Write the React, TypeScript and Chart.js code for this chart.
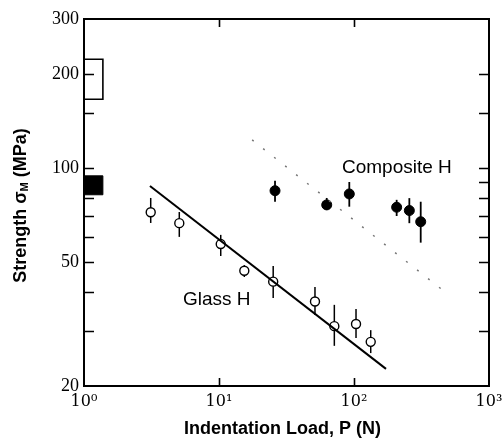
import { useEffect, useRef } from 'react';
import { Chart, registerables } from 'chart.js';

Chart.register(...registerables);

// ---- data ----
const glassLoad = [3.12, 5.08, 10.3, 15.4, 25.2, 51.4, 71.5, 103.5, 133];
const glassStrength = [72.1, 66.5, 57.0, 46.8, 43.2, 37.3, 31.1, 31.6, 27.7];
const glassLow = [66.6, 60.1, 52.2, 44.7, 38.3, 33.8, 26.9, 28.5, 25.5];
const glassHigh = [80.1, 72.2, 61.0, 48.8, 48.5, 41.5, 36.4, 35.3, 30.2];

const compLoad = [26.0, 62.8, 92.3, 207, 257, 312];
const compStrength = [84.5, 76.1, 82.5, 74.8, 73.0, 67.2];
const compLow = [77.9, 73.3, 75.1, 70.1, 66.5, 57.6];
const compHigh = [91.0, 80.1, 90.1, 79.0, 80.0, 77.9];

const glassFitLoad = [3.08, 172.6];
const glassFitStrength = [87.5, 22.7];
const compTrendLoad = [17.6, 514];
const compTrendStrength = [122.9, 38.9];

const openBandLoad = [1, 1.38];
const openBandStrength = [166, 223];
const filledBandLoad = [1, 1.38];
const filledBandStrength = [82, 94.3];

const xMin = 1;
const xMax = 1000;
const yMin = 20;
const yMax = 300;
const yLabelValues = [20, 50, 100, 200, 300];
const xLabelValues = [1, 10, 100, 1000];
const xLabelText = ['10⁰', '10¹', '10²', '10³'];
const xMajorTicks = [10, 100];

const yTitleParts = ['Strength σ', 'M', ' (MPa)'];
const xTitle = 'Indentation Load, P (N)';
const notes = [
  { text: 'Composite H', load: 81.5, strength: 100 },
  { text: 'Glass H', load: 5.41, strength: 37.7 },
];

const pts = (xs: number[], ys: number[]) => xs.map((x, i) => ({ x, y: ys[i] }));
const rect = (xs: number[], ys: number[]) => [
  { x: xs[0], y: ys[0] },
  { x: xs[1], y: ys[0] },
  { x: xs[1], y: ys[1] },
  { x: xs[0], y: ys[1] },
  { x: xs[0], y: ys[0] },
];
const near = (a: number, b: number) => Math.abs(a - b) / b < 1e-6;

const decor = {
  id: 'decor',
  beforeDatasetsDraw(chart: any) {
    const { ctx, scales } = chart;
    const x = scales.x;
    const y = scales.y;
    ctx.save();
    ctx.strokeStyle = '#000';
    const groups: [number[], number[], number[], number][] = [
      [glassLoad, glassLow, glassHigh, 1.5],
      [compLoad, compLow, compHigh, 1.8],
    ];
    for (const [load, lo, hi, w] of groups) {
      ctx.lineWidth = w;
      for (let i = 0; i < load.length; i++) {
        const px = x.getPixelForValue(load[i]);
        ctx.beginPath();
        ctx.moveTo(px, y.getPixelForValue(lo[i]));
        ctx.lineTo(px, y.getPixelForValue(hi[i]));
        ctx.stroke();
      }
    }
    ctx.restore();
  },
  afterDraw(chart: any) {
    const { ctx, chartArea, scales } = chart;
    const x = scales.x;
    const y = scales.y;
    const { left, right, top, bottom } = chartArea;
    ctx.save();
    ctx.strokeStyle = '#000';
    ctx.lineWidth = 2;
    ctx.strokeRect(left, top, right - left, bottom - top);

    ctx.lineWidth = 1.6;
    for (const t of y.ticks) {
      const v = t.value;
      if (v <= yMin * 1.0001 || v >= yMax * 0.9999) continue;
      const py = Math.round(y.getPixelForValue(v)) + 0.5;
      ctx.beginPath();
      ctx.moveTo(left, py);
      ctx.lineTo(left + 10, py);
      ctx.moveTo(right, py);
      ctx.lineTo(right - 10, py);
      ctx.stroke();
    }
    for (const v of xMajorTicks) {
      const px = Math.round(x.getPixelForValue(v)) + 0.5;
      ctx.beginPath();
      ctx.moveTo(px, bottom);
      ctx.lineTo(px, bottom - 8);
      ctx.moveTo(px, top);
      ctx.lineTo(px, top + 8);
      ctx.stroke();
    }

    ctx.fillStyle = '#000';
    ctx.font = '19px "Liberation Sans", Arial, sans-serif';
    ctx.textAlign = 'left';
    ctx.textBaseline = 'middle';
    for (const n of notes) {
      ctx.fillText(n.text, x.getPixelForValue(n.load), y.getPixelForValue(n.strength));
    }

    // x title
    ctx.font = 'bold 18px "Liberation Sans", Arial, sans-serif';
    ctx.textAlign = 'center';
    ctx.fillText(xTitle, (left + right) / 2 - 4, 429);

    // y title with subscript
    const big = 'bold 18px "Liberation Sans", Arial, sans-serif';
    const small = 'bold 11px "Liberation Sans", Arial, sans-serif';
    ctx.font = big;
    const w1 = ctx.measureText(yTitleParts[0]).width;
    const w3 = ctx.measureText(yTitleParts[2]).width;
    ctx.font = small;
    const w2 = ctx.measureText(yTitleParts[1]).width;
    const total = w1 + w2 + w3;
    ctx.translate(21, (top + bottom) / 2 + 3);
    ctx.rotate(-Math.PI / 2);
    ctx.textAlign = 'left';
    let cx = -total / 2;
    ctx.font = big;
    ctx.fillText(yTitleParts[0], cx, 0);
    cx += w1;
    ctx.font = small;
    ctx.fillText(yTitleParts[1], cx, 4);
    cx += w2;
    ctx.font = big;
    ctx.fillText(yTitleParts[2], cx, 0);
    ctx.restore();
  },
};

export default function App() {
  const ref = useRef<HTMLCanvasElement | null>(null);
  useEffect(() => {
    if (!ref.current) return;
    const chart = new Chart(ref.current, {
      type: 'scatter',
      data: {
        datasets: [
          {
            type: 'line',
            data: rect(openBandLoad, openBandStrength),
            borderColor: '#000',
            borderWidth: 1.6,
            pointRadius: 0,
            fill: false,
          } as any,
          {
            type: 'line',
            data: rect(filledBandLoad, filledBandStrength),
            borderColor: '#000',
            backgroundColor: '#000',
            borderWidth: 1,
            pointRadius: 0,
            fill: 'shape',
          } as any,
          {
            type: 'line',
            data: pts(glassFitLoad, glassFitStrength),
            borderColor: '#000',
            borderWidth: 2,
            pointRadius: 0,
            fill: false,
          } as any,
          {
            type: 'line',
            data: pts(compTrendLoad, compTrendStrength),
            borderColor: '#777',
            borderWidth: 1.5,
            borderDash: [2, 12],
            pointRadius: 0,
            fill: false,
          } as any,
          {
            data: pts(glassLoad, glassStrength),
            pointRadius: 4.5,
            pointBorderWidth: 1.4,
            pointBorderColor: '#000',
            pointBackgroundColor: '#fff',
          },
          {
            data: pts(compLoad, compStrength),
            pointRadius: 5,
            pointBorderWidth: 1,
            pointBorderColor: '#000',
            pointBackgroundColor: '#000',
          },
        ],
      },
      options: {
        responsive: false,
        animation: false,
        events: [],
        layout: { padding: { top: 19, right: 14, left: 0, bottom: 0 } },
        plugins: { legend: { display: false }, tooltip: { enabled: false } },
        scales: {
          x: {
            type: 'logarithmic',
            min: xMin,
            max: xMax,
            grid: { display: false, drawTicks: false },
            border: { display: false },
            afterFit: (s: any) => {
              s.height = 57;
              s.paddingLeft = 0;
              s.paddingRight = 0;
            },
            ticks: {
              autoSkip: false,
              maxRotation: 0,
              padding: 6,
              color: '#000',
              font: { family: '"DejaVu Serif", "Liberation Serif", serif', size: 16 },
              callback: (v: any) => {
                const i = xLabelValues.findIndex((t) => near(Number(v), t));
                return i >= 0 ? xLabelText[i] : '';
              },
            },
          },
          y: {
            type: 'logarithmic',
            min: yMin,
            max: yMax,
            grid: { display: false, drawTicks: false },
            border: { display: false },
            afterFit: (s: any) => {
              s.width = 84;
              s.paddingTop = 0;
              s.paddingBottom = 0;
            },
            ticks: {
              autoSkip: false,
              padding: 5,
              color: '#000',
              font: { family: '"Liberation Serif", serif', size: 18 },
              callback: (v: any) => {
                const i = yLabelValues.findIndex((t) => near(Number(v), t));
                return i >= 0 ? String(yLabelValues[i]) : '';
              },
            },
          },
        },
      },
      plugins: [decor],
    } as any);
    return () => chart.destroy();
  }, []);
  return (
    <div style={{ position: 'absolute', left: 0, top: 0, width: 503, height: 443, background: '#fff' }}>
      <canvas ref={ref} width={503} height={443} />
    </div>
  );
}
